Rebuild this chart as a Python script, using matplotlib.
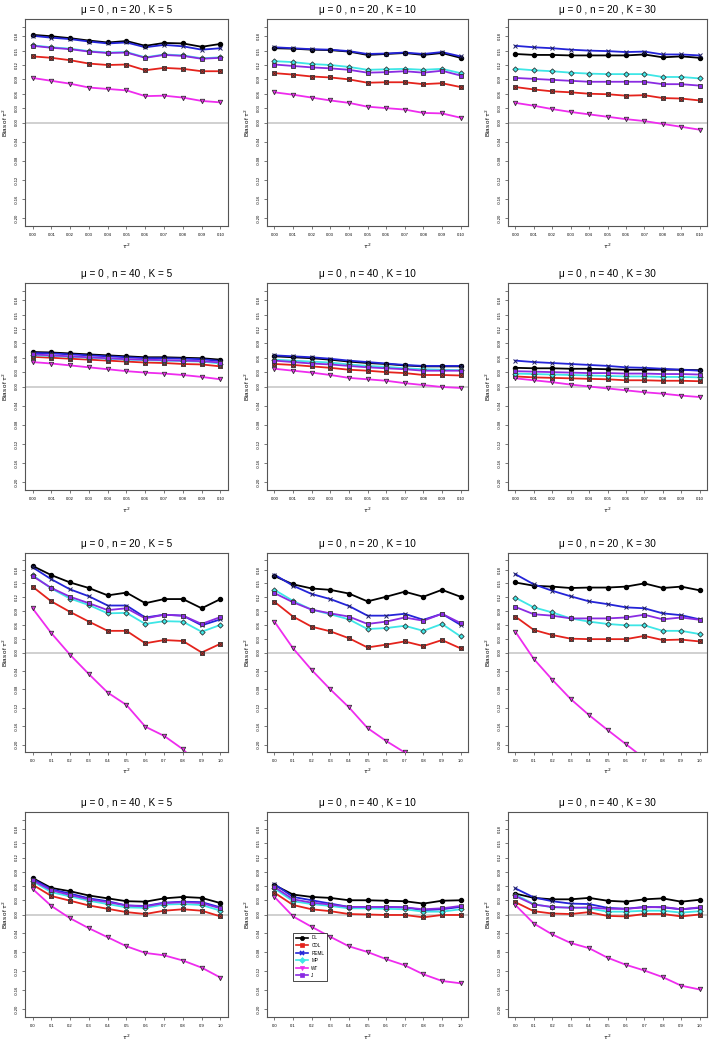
import numpy as np
import matplotlib.pyplot as plt
from matplotlib.lines import Line2D

plt.rcParams['font.family'] = ['Liberation Sans', 'DejaVu Sans']

tau_small = [0.00, 0.01, 0.02, 0.03, 0.04, 0.05, 0.06, 0.07, 0.08, 0.09, 0.10]
tau_large = [0.0, 0.1, 0.2, 0.3, 0.4, 0.5, 0.6, 0.7, 0.8, 0.9, 1.0]
tick_small = ["0.00", "0.01", "0.02", "0.03", "0.04", "0.05", "0.06", "0.07", "0.08", "0.09", "0.10"]
tick_large = ["0.0", "0.1", "0.2", "0.3", "0.4", "0.5", "0.6", "0.7", "0.8", "0.9", "1.0"]
methods = ["DL", "CDL", "REML", "MP", "WT", "J"]

ytick_pos = [0.20, 0.18, 0.15, 0.12, 0.09, 0.06, 0.03, 0.00, -0.04, -0.08, -0.12, -0.16, -0.20]
ytick_lab = ["", "0.18", "0.15", "0.12", "0.09", "0.06", "0.03", "0.00", "-0.04", "-0.08", "-0.12", "-0.16", "-0.20"]

# row 1: small tau^2, n = 20
s_n20_k5 = dict(
    DL=[0.183, 0.180, 0.176, 0.171, 0.167, 0.170, 0.160, 0.166, 0.165, 0.158, 0.164],
    CDL=[0.138, 0.135, 0.130, 0.123, 0.120, 0.121, 0.109, 0.114, 0.112, 0.107, 0.107],
    REML=[0.181, 0.177, 0.174, 0.169, 0.165, 0.167, 0.157, 0.162, 0.159, 0.152, 0.155],
    MP=[0.161, 0.157, 0.154, 0.149, 0.146, 0.147, 0.136, 0.142, 0.140, 0.134, 0.136],
    WT=[0.093, 0.087, 0.081, 0.073, 0.070, 0.067, 0.055, 0.056, 0.052, 0.045, 0.042],
    J=[0.160, 0.156, 0.153, 0.148, 0.145, 0.146, 0.135, 0.141, 0.139, 0.133, 0.135])
s_n20_k10 = dict(
    DL=[0.155, 0.154, 0.152, 0.151, 0.148, 0.141, 0.143, 0.145, 0.141, 0.145, 0.135],
    CDL=[0.103, 0.100, 0.096, 0.094, 0.090, 0.083, 0.084, 0.084, 0.080, 0.082, 0.074],
    REML=[0.157, 0.155, 0.153, 0.152, 0.149, 0.143, 0.144, 0.146, 0.143, 0.147, 0.138],
    MP=[0.128, 0.126, 0.122, 0.120, 0.116, 0.110, 0.111, 0.112, 0.110, 0.112, 0.103],
    WT=[0.063, 0.058, 0.052, 0.046, 0.041, 0.033, 0.030, 0.027, 0.020, 0.019, 0.010],
    J=[0.121, 0.118, 0.115, 0.113, 0.110, 0.104, 0.105, 0.107, 0.104, 0.108, 0.098])
s_n20_k30 = dict(
    DL=[0.143, 0.141, 0.141, 0.140, 0.140, 0.140, 0.140, 0.142, 0.136, 0.138, 0.135],
    CDL=[0.074, 0.069, 0.065, 0.063, 0.060, 0.059, 0.056, 0.057, 0.051, 0.050, 0.046],
    REML=[0.160, 0.157, 0.155, 0.152, 0.150, 0.149, 0.147, 0.148, 0.142, 0.142, 0.140],
    MP=[0.112, 0.109, 0.107, 0.104, 0.102, 0.101, 0.101, 0.101, 0.095, 0.095, 0.092],
    WT=[0.041, 0.035, 0.028, 0.022, 0.017, 0.012, 0.007, 0.003, -0.003, -0.009, -0.015],
    J=[0.093, 0.091, 0.089, 0.087, 0.085, 0.085, 0.085, 0.085, 0.080, 0.080, 0.077])

# row 2: small tau^2, n = 40
s_n40_k5 = dict(
    DL=[0.072, 0.071, 0.069, 0.067, 0.065, 0.063, 0.061, 0.061, 0.060, 0.059, 0.056],
    CDL=[0.062, 0.060, 0.058, 0.056, 0.054, 0.052, 0.050, 0.049, 0.047, 0.046, 0.042],
    REML=[0.070, 0.069, 0.067, 0.065, 0.063, 0.061, 0.059, 0.059, 0.058, 0.057, 0.053],
    MP=[0.065, 0.064, 0.062, 0.060, 0.058, 0.056, 0.055, 0.054, 0.053, 0.052, 0.048],
    WT=[0.051, 0.048, 0.044, 0.040, 0.036, 0.032, 0.029, 0.027, 0.024, 0.020, 0.015],
    J=[0.067, 0.065, 0.063, 0.061, 0.059, 0.057, 0.056, 0.055, 0.054, 0.053, 0.050])
s_n40_k10 = dict(
    DL=[0.063, 0.061, 0.059, 0.056, 0.052, 0.049, 0.047, 0.044, 0.042, 0.042, 0.042],
    CDL=[0.047, 0.045, 0.042, 0.039, 0.035, 0.033, 0.030, 0.028, 0.024, 0.024, 0.023],
    REML=[0.065, 0.063, 0.061, 0.058, 0.054, 0.051, 0.048, 0.045, 0.043, 0.043, 0.043],
    MP=[0.056, 0.054, 0.052, 0.050, 0.046, 0.043, 0.041, 0.038, 0.036, 0.035, 0.034],
    WT=[0.037, 0.033, 0.029, 0.024, 0.018, 0.015, 0.012, 0.007, 0.003, -0.001, -0.003],
    J=[0.054, 0.051, 0.048, 0.046, 0.043, 0.040, 0.038, 0.036, 0.033, 0.033, 0.033])
s_n40_k30 = dict(
    DL=[0.039, 0.038, 0.038, 0.037, 0.037, 0.036, 0.035, 0.035, 0.035, 0.035, 0.034],
    CDL=[0.021, 0.019, 0.018, 0.017, 0.016, 0.015, 0.013, 0.013, 0.012, 0.012, 0.011],
    REML=[0.054, 0.051, 0.049, 0.047, 0.045, 0.043, 0.040, 0.039, 0.037, 0.035, 0.033],
    MP=[0.027, 0.026, 0.025, 0.024, 0.023, 0.022, 0.021, 0.021, 0.020, 0.020, 0.019],
    WT=[0.017, 0.013, 0.009, 0.004, 0.000, -0.004, -0.008, -0.012, -0.015, -0.019, -0.022],
    J=[0.032, 0.031, 0.030, 0.029, 0.028, 0.028, 0.027, 0.027, 0.026, 0.026, 0.025])

# row 3: large tau^2, n = 20
l_n20_k5 = dict(
    DL=[0.188, 0.168, 0.152, 0.140, 0.124, 0.130, 0.107, 0.116, 0.116, 0.096, 0.116],
    CDL=[0.143, 0.111, 0.088, 0.067, 0.047, 0.047, 0.020, 0.027, 0.025, 0.000, 0.019],
    REML=[0.185, 0.159, 0.137, 0.122, 0.102, 0.102, 0.076, 0.082, 0.080, 0.059, 0.072],
    MP=[0.168, 0.139, 0.117, 0.103, 0.085, 0.086, 0.062, 0.068, 0.067, 0.045, 0.060],
    WT=[0.096, 0.042, -0.005, -0.047, -0.087, -0.114, -0.161, -0.181, -0.210, -0.250, -0.290],
    J=[0.166, 0.140, 0.121, 0.107, 0.092, 0.096, 0.074, 0.082, 0.080, 0.062, 0.077])
l_n20_k10 = dict(
    DL=[0.166, 0.148, 0.139, 0.136, 0.128, 0.111, 0.121, 0.132, 0.121, 0.136, 0.121],
    CDL=[0.110, 0.078, 0.056, 0.046, 0.031, 0.011, 0.017, 0.024, 0.014, 0.027, 0.009],
    REML=[0.169, 0.145, 0.127, 0.116, 0.101, 0.080, 0.080, 0.084, 0.071, 0.084, 0.060],
    MP=[0.136, 0.112, 0.093, 0.083, 0.072, 0.051, 0.053, 0.058, 0.047, 0.062, 0.035],
    WT=[0.067, 0.009, -0.038, -0.080, -0.119, -0.164, -0.192, -0.217, -0.250, -0.280, -0.310],
    J=[0.129, 0.109, 0.093, 0.085, 0.078, 0.062, 0.067, 0.076, 0.069, 0.084, 0.064])
l_n20_k30 = dict(
    DL=[0.152, 0.145, 0.143, 0.140, 0.141, 0.141, 0.143, 0.150, 0.140, 0.143, 0.135],
    CDL=[0.078, 0.049, 0.038, 0.030, 0.029, 0.029, 0.029, 0.036, 0.027, 0.028, 0.024],
    REML=[0.170, 0.148, 0.134, 0.122, 0.111, 0.105, 0.098, 0.096, 0.085, 0.081, 0.072],
    MP=[0.119, 0.098, 0.087, 0.074, 0.067, 0.062, 0.059, 0.059, 0.047, 0.047, 0.040],
    WT=[0.045, -0.014, -0.059, -0.101, -0.136, -0.168, -0.199, -0.230, -0.260, -0.290, -0.320],
    J=[0.099, 0.083, 0.080, 0.074, 0.074, 0.074, 0.076, 0.082, 0.072, 0.076, 0.071])

# row 4: large tau^2, n = 40
l_n40_k5 = dict(
    DL=[0.077, 0.056, 0.049, 0.040, 0.034, 0.028, 0.027, 0.034, 0.037, 0.035, 0.024],
    CDL=[0.063, 0.039, 0.029, 0.019, 0.012, 0.005, 0.001, 0.008, 0.011, 0.008, -0.004],
    REML=[0.075, 0.053, 0.044, 0.034, 0.028, 0.019, 0.018, 0.025, 0.027, 0.026, 0.015],
    MP=[0.070, 0.047, 0.038, 0.029, 0.022, 0.015, 0.014, 0.021, 0.022, 0.020, 0.008],
    WT=[0.054, 0.018, -0.008, -0.029, -0.048, -0.067, -0.081, -0.086, -0.097, -0.112, -0.133],
    J=[0.072, 0.051, 0.041, 0.032, 0.026, 0.019, 0.017, 0.024, 0.026, 0.024, 0.013])
l_n40_k10 = dict(
    DL=[0.062, 0.042, 0.037, 0.035, 0.030, 0.030, 0.029, 0.028, 0.023, 0.029, 0.030],
    CDL=[0.046, 0.020, 0.011, 0.007, 0.001, 0.000, -0.001, -0.001, -0.006, -0.001, -0.001],
    REML=[0.064, 0.037, 0.030, 0.023, 0.016, 0.016, 0.016, 0.015, 0.009, 0.011, 0.016],
    MP=[0.055, 0.028, 0.022, 0.018, 0.013, 0.013, 0.012, 0.011, 0.006, 0.006, 0.011],
    WT=[0.037, -0.004, -0.026, -0.047, -0.067, -0.079, -0.094, -0.107, -0.126, -0.140, -0.145],
    J=[0.058, 0.032, 0.025, 0.021, 0.016, 0.016, 0.016, 0.015, 0.011, 0.013, 0.018])
l_n40_k30 = dict(
    DL=[0.044, 0.035, 0.032, 0.032, 0.035, 0.029, 0.027, 0.032, 0.034, 0.027, 0.031],
    CDL=[0.026, 0.007, 0.002, 0.001, 0.005, -0.003, -0.004, 0.001, 0.001, -0.004, 0.000],
    REML=[0.055, 0.036, 0.028, 0.023, 0.022, 0.014, 0.012, 0.016, 0.015, 0.011, 0.014],
    MP=[0.042, 0.022, 0.015, 0.015, 0.013, 0.006, 0.006, 0.008, 0.008, 0.004, 0.007],
    WT=[0.020, -0.019, -0.042, -0.060, -0.071, -0.091, -0.106, -0.118, -0.132, -0.150, -0.158],
    J=[0.039, 0.021, 0.016, 0.014, 0.015, 0.012, 0.012, 0.015, 0.016, 0.011, 0.015])

panels = [
    [(s_n20_k5, 20, 5), (s_n20_k10, 20, 10), (s_n20_k30, 20, 30)],
    [(s_n40_k5, 40, 5), (s_n40_k10, 40, 10), (s_n40_k30, 40, 30)],
    [(l_n20_k5, 20, 5), (l_n20_k10, 20, 10), (l_n20_k30, 20, 30)],
    [(l_n40_k5, 40, 5), (l_n40_k10, 40, 10), (l_n40_k30, 40, 30)],
]

colors = {"DL": "black", "CDL": "#e4231c", "REML": "#2424d8", "MP": "#3ee6e6", "WT": "#ee2cee", "J": "#8a2be2"}
marks = {"DL": "o", "CDL": "s", "REML": "x", "MP": "D", "WT": "v", "J": "s"}

W, H = 709, 1042
col_left = [25, 267, 508]
col_w = [203, 201, 199]
row_top = [19, 283, 553, 812]
row_h = [207, 207, 199, 205]

fig = plt.figure(figsize=(W / 100, H / 100), dpi=100)

for r in range(4):
    for c in range(3):
        data, n, k = panels[r][c]
        ax = fig.add_axes([col_left[c] / W, 1 - (row_top[r] + row_h[r]) / H, col_w[c] / W, row_h[r] / H])
        if r < 2:
            x, xt = tau_small, tick_small
        else:
            x, xt = tau_large, tick_large
        span = x[-1] - x[0]
        ax.axhline(0, color="#c8c8c8", lw=1.2, zorder=1)
        for m in methods:
            col = colors[m]
            ax.plot(x, data[m], color=col, lw=1.3, zorder=2)
            if m == "DL":
                ax.plot(x, data[m], ls="none", marker="o", ms=2.9, color="black", zorder=3)
            elif m == "REML":
                ax.plot(x, data[m], ls="none", marker="x", ms=3.0, mew=0.7, color="#202060", zorder=3)
            elif m == "CDL":
                ax.plot(x, data[m], ls="none", marker="s", ms=3.2, mfc=col, mec="#333333", mew=0.6, zorder=3)
                ax.plot(x, data[m], ls="none", marker="x", ms=2.4, mew=0.5, color="#333333", zorder=3)
            else:
                ax.plot(x, data[m], ls="none", marker=marks[m], ms=3.2 if m != "MP" else 2.7,
                        mfc=col, mec="#333333", mew=0.6, zorder=3)
        ax.set_xlim(x[0] - 0.04 * span, x[-1] + 0.04 * span)
        ax.set_ylim(-0.216, 0.216)
        ax.set_xticks(x)
        ax.set_xticklabels(xt, fontsize=3)
        ax.set_yticks(ytick_pos)
        ax.set_yticklabels(ytick_lab, fontsize=3, rotation=90, va="center")
        ax.tick_params(length=2.2, width=0.5, color="#444444", pad=2.5)
        for s in ax.spines.values():
            s.set_color("#555555")
            s.set_linewidth(0.8)
        ax.set_title("μ = 0 , n = %d , K = %d" % (n, k), fontsize=7.2, pad=4)
        ax.set_ylabel("Bias of $\\tau^2$", fontsize=4.5)
        ax.yaxis.set_label_coords(-0.075, 0.5)
        ax.set_xlabel("$\\tau^2$", fontsize=4.5)
        ax.xaxis.set_label_coords(0.5, -0.075)
        if r == 3 and c == 1:
            handles = [Line2D([], [], color=colors[m], marker=marks[m], mfc=colors[m], mec=colors[m],
                              ms=3.0, mew=1.2 if m == "REML" else 0.5, lw=1.2) for m in methods]
            leg = ax.legend(handles, methods, loc="upper left", bbox_to_anchor=(0.129, 0.411),
                            fontsize=3.3, frameon=True, fancybox=False, edgecolor="black",
                            framealpha=1, handlelength=2.6, borderpad=0.6, labelspacing=0.55,
                            handletextpad=0.8, borderaxespad=0)
            leg.get_frame().set_linewidth(0.5)

fig.savefig("out.png", dpi=100)
